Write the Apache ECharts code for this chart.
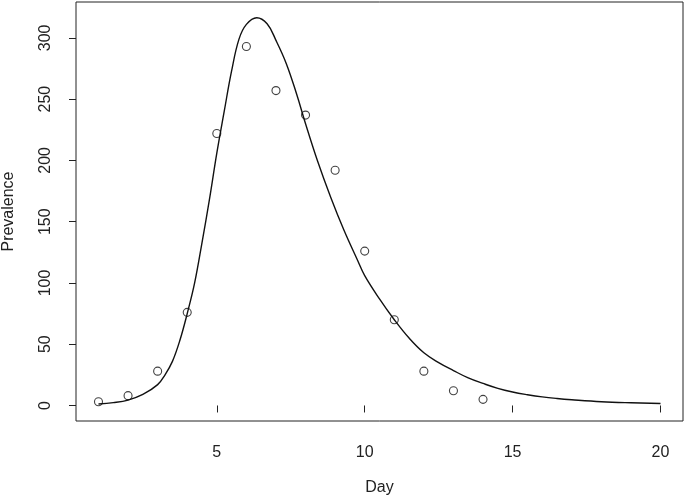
<!DOCTYPE html>
<html>
<head>
<meta charset="utf-8" />
<title>Prevalence by day</title>
<style>html,body{margin:0;padding:0;background:#fff}#chart{width:685px;height:499px}</style>
<script src="https://cdn.jsdelivr.net/npm/echarts@6.0.0/dist/echarts.min.js"></script>
</head>
<body>
<div id="chart"></div>
<script>
// observed cases (open circles)
const days = [1, 2, 3, 4, 5, 6, 7, 8, 9, 10, 11, 12, 13, 14];
const cases = [3, 8, 28, 76, 222, 293, 257, 237, 192, 126, 70, 28, 12, 5];

// fitted curve
const fitDay = [1, 1.5, 2, 2.5, 3, 3.25, 3.5, 3.75, 4, 4.25, 4.5, 4.75, 5, 5.25, 5.5, 5.75,
  6, 6.35, 6.7, 7, 7.35, 7.7, 8, 8.4, 8.85, 9.3, 9.75, 10, 10.5, 11, 11.5,
  12, 12.5, 13, 13.5, 14, 14.5, 15, 15.5, 16, 16.5, 17, 18, 19, 20];
const fitPrev = [1.2, 2.3, 4.4, 9, 17, 25, 36, 53, 75, 100, 133, 168, 206, 240, 273, 299,
  311, 316.5, 311.5, 298, 279, 254, 230, 200, 170, 143, 119, 106, 87, 70, 55,
  43, 35, 28.5, 22.5, 18, 14, 11, 8.8, 7, 5.7, 4.7, 3.1, 2.2, 1.6];

const xTicks = [5, 10, 15, 20];
const yTicks = [0, 50, 100, 150, 200, 250, 300];

const font = "Liberation Sans, Arial, sans-serif";
const chart = echarts.init(document.getElementById("chart"), null, { renderer: "canvas" });

chart.setOption({
  animation: false,
  grid: {
    left: 76, right: 2, top: 2, bottom: 78,
    containLabel: false, outerBoundsMode: "none",
    show: true, borderColor: "#222", borderWidth: 1, backgroundColor: "#fff"
  },
  xAxis: {
    type: "value", min: 0.24, max: 20.76,
    name: "Day", nameLocation: "middle", nameGap: 59,
    nameTextStyle: { fontFamily: font, fontSize: 16, color: "#222" },
    axisLine: { show: false },
    splitLine: { show: false },
    axisTick: { show: true, inside: false, length: 7, customValues: xTicks, lineStyle: { color: "#222" } },
    axisLabel: { customValues: xTicks, margin: 24, fontFamily: font, fontSize: 16, color: "#222" }
  },
  yAxis: {
    type: "value", min: -12.67, max: 329.3,
    name: "Prevalence", nameLocation: "middle", nameGap: 59,
    nameTextStyle: { fontFamily: font, fontSize: 16, color: "#222" },
    axisLine: { show: false },
    splitLine: { show: false },
    axisTick: { show: true, inside: false, length: 7, customValues: yTicks, lineStyle: { color: "#222" } },
    axisLabel: { customValues: yTicks, rotate: 90, margin: 22, fontFamily: font, fontSize: 16, color: "#222" }
  },
  series: [
    {
      type: "line",
      data: fitDay.map((d, i) => [d, fitPrev[i]]),
      smooth: 0.4,
      showSymbol: false,
      lineStyle: { color: "#111", width: 1.4 },
      z: 2
    },
    {
      type: "scatter",
      data: days.map((d, i) => [d, cases[i]]),
      symbol: "circle",
      symbolSize: 8,
      itemStyle: { color: "rgba(255,255,255,0)", borderColor: "#111", borderWidth: 1.1 },
      z: 3
    }
  ]
});
</script>
</body>
</html>
